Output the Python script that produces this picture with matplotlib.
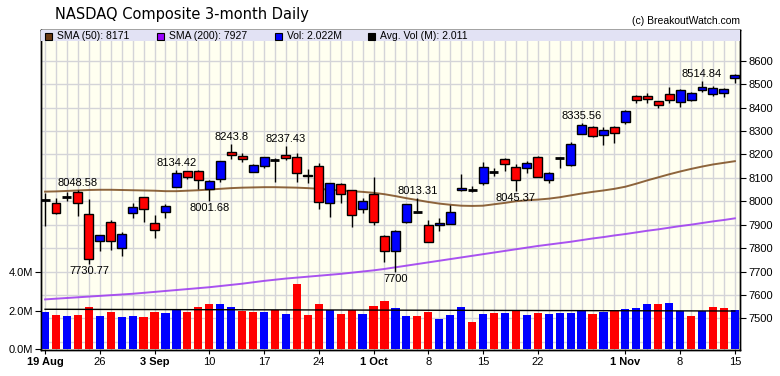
import matplotlib
matplotlib.use("Agg")
import numpy as np
import matplotlib.pyplot as plt
from matplotlib.patches import Rectangle

plt.rcParams['font.family'] = ['Liberation Sans', 'DejaVu Sans']

# --- data (19 Aug .. 15 Nov 2019, 64 sessions) ---
opens = [8005, 7991, 8019, 8038, 7944, 7829, 7910, 7799, 7948, 8017,
         7907, 7953, 8062, 8129, 8131, 8051, 8094, 8209, 8193, 8125,
         8149, 8177, 8197, 8187, 8106, 8149, 7991, 8073, 8047, 7966,
         8031, 7851, 7787, 7910, 7955, 7898, 7897, 7904, 8047, 8048,
         8077, 8124, 8179, 8147, 8142, 8187, 8091, 8186, 8153, 8286,
         8315, 8284, 8315, 8338, 8451, 8449, 8428, 8458, 8424, 8432,
         8473, 8456, 8461, 8525]
highs = [8034, 8012, 8038, 8048.58, 8009, 7858, 7920, 7869, 7991, 8020,
         7941, 7990, 8134.42, 8131, 8133, 8090, 8172, 8243.8, 8206, 8161,
         8190, 8183, 8237.43, 8206, 8136, 8162, 8080, 8080, 8049, 8012,
         8105, 7856, 7877, 7987, 8013.31, 7920, 7930, 7984, 8116, 8066,
         8166, 8143, 8183, 8158, 8172, 8195, 8125, 8190, 8254, 8335.56,
         8320, 8316, 8320, 8391, 8454, 8461, 8430, 8489, 8480, 8468,
         8514.84, 8493, 8482, 8544]
lows = [7894, 7946, 8001, 7938, 7730.77, 7789, 7792, 7767, 7927, 7913,
        7844, 7930, 8060, 8097, 8052, 8001.68, 8081, 8179, 8166, 8124,
        8141, 8083, 8178, 8083, 8078, 7968, 7934, 7991, 7891, 7948,
        7900, 7742, 7700, 7905, 7950, 7824, 7874, 7903, 8045, 8038,
        8070, 8106, 8130, 8045.37, 8119, 8104, 8080, 8141, 8152, 8285,
        8276, 8241, 8250, 8328, 8421, 8421, 8399, 8421, 8404, 8427,
        8465, 8451, 8444, 8505]
closes = [8005, 7948, 8019, 7994, 7752, 7854, 7829, 7859, 7974, 7966,
          7876, 7978, 8119, 8102, 8090, 8085, 8170, 8197, 8180, 8153,
          8187, 8177, 8185, 8119, 8113, 7997, 8077, 8031, 7940, 8000,
          7910, 7787, 7873, 7987, 7955, 7825, 7905, 7952, 8058, 8048,
          8148, 8124, 8157, 8090, 8163, 8104, 8120, 8186, 8243, 8327,
          8277, 8304, 8292, 8386, 8433, 8435, 8412, 8434, 8475, 8464,
          8486, 8482, 8479, 8541]
volumes = [1.96, 1.80, 1.75, 1.80, 2.22, 1.75, 1.96, 1.70, 1.75, 1.70,
           1.96, 1.91, 2.12, 1.93, 2.22, 2.38, 2.34, 2.22, 2.00, 1.93,
           1.93, 2.06, 1.86, 3.42, 1.80, 2.33, 2.06, 1.86, 2.06, 1.86,
           2.27, 2.53, 2.15, 1.75, 1.75, 1.96, 1.59, 1.80, 2.22, 1.44,
           1.86, 1.91, 1.91, 2.06, 1.80, 1.91, 1.86, 1.91, 1.91, 2.00,
           1.86, 1.96, 2.00, 2.12, 2.17, 2.38, 2.38, 2.43, 2.00, 1.75,
           2.00, 2.22, 2.17, 2.02]
sma50 = [8041, 8042, 8044, 8046, 8048, 8049, 8049, 8048, 8047, 8046,
         8045, 8043, 8043, 8045, 8047, 8050, 8053, 8056, 8058, 8059,
         8060, 8060, 8059, 8058, 8056, 8053, 8049, 8046, 8043, 8040,
         8036, 8030, 8022, 8013, 8005, 7997, 7990, 7985, 7981, 7980,
         7981, 7987, 7993, 8000, 8004, 8007, 8011, 8017, 8025, 8033,
         8040, 8046, 8053, 8062, 8075, 8089, 8102, 8115, 8127, 8138,
         8148, 8157, 8164, 8171]
sma200 = [7581, 7584, 7587, 7590, 7593, 7596, 7599, 7602, 7605, 7609,
          7613, 7617, 7621, 7625, 7629, 7633, 7638, 7643, 7648, 7654,
          7660, 7665, 7670, 7674, 7678, 7682, 7686, 7690, 7695, 7700,
          7705, 7711, 7718, 7725, 7732, 7739, 7746, 7753, 7760, 7767,
          7774, 7781, 7788, 7795, 7802, 7809, 7815, 7821, 7827, 7834,
          7841, 7847, 7854, 7860, 7867, 7874, 7880, 7887, 7894, 7900,
          7907, 7914, 7920, 7927]
avg_vol_ends = [2.08, 1.99]

tick_idx = [0, 5, 10, 15, 20, 25, 30, 35, 40, 45, 53, 58, 63]
tick_lbl = ['19 Aug', '26', '3 Sep', '10', '17', '24', '1 Oct', '8', '15',
            '22', '1 Nov', '8', '15']
month_lbl = {'19 Aug', '3 Sep', '1 Oct', '1 Nov'}

high_marks = [3, 12, 17, 22, 34, 49, 60]
low_marks = [4, 15, 32, 43]

legend_items = [('#6B3A12', 'SMA (50): 8171'), ('#9900FF', 'SMA (200): 7927'),
                ('#0000FF', 'Vol: 2.022M'), ('#000000', 'Avg. Vol (M): 2.011')]

RED, BLUE = '#FF0000', '#0000FF'

W, H = 780, 376
fig = plt.figure(figsize=(W / 100, H / 100), dpi=100)
fig.patch.set_facecolor('white')
ax = fig.add_axes([41 / W, 26 / H, 699 / W, 320 / H])
ax.set_facecolor('#FFFFF0')
x = np.arange(len(closes))
o = np.array(opens, float)
c = np.array(closes, float)

ax.set_xlim(-0.37, 63.47)
ax.set_ylim(7365, 8731)

# grid
ax.set_xticks(x, minor=True)
ax.set_yticks(range(7500, 8601, 100))
ax.set_yticks([7400, 8700], minor=True)
ax.grid(which='both', color='#D4D4D8', lw=1, zorder=0)
ax.set_axisbelow(True)

# moving averages
ax.plot(x, sma50, color='#7A4A1C', lw=1.4, alpha=0.85, zorder=2)
ax.plot(x, sma200, color='#A040F0', lw=1.4, alpha=0.9, zorder=2)

# candles
body_w = 0.82
for i in x:
    ax.vlines(i, lows[i], highs[i], color='black', lw=1, zorder=3)
    if c[i] == o[i]:
        ax.hlines(c[i], i - body_w / 2, i + body_w / 2, color='black', lw=2, zorder=4)
    else:
        col = BLUE if c[i] > o[i] else RED
        ax.bar(i, abs(c[i] - o[i]), bottom=min(o[i], c[i]), width=body_w,
               color=col, edgecolor='black', lw=1, zorder=4)

for i in high_marks:
    ax.annotate(f'{highs[i]:g}', (i, highs[i]), xytext=(0, 1.5),
                textcoords='offset points', ha='center', va='bottom', fontsize=8)
for i in low_marks:
    ax.annotate(f'{lows[i]:g}', (i, lows[i]), xytext=(0, -1.5),
                textcoords='offset points', ha='center', va='top', fontsize=8)

ax.set_xticks(tick_idx)
ax.set_xticklabels(tick_lbl)
ax.tick_params(axis='x', which='major', length=3, labelsize=8, pad=2)
ax.tick_params(axis='x', which='minor', length=0)
for t in ax.get_xticklabels():
    if t.get_text() in month_lbl:
        t.set_fontweight('bold')

# volume on a twin axis
axv = ax.twinx()
axv.patch.set_visible(False)
axv.set_ylim(-0.04, 16.62)
vol_up = np.concatenate([[True], np.diff(c) > 0])
axv.bar(x, volumes, width=0.75, color=[BLUE if u else RED for u in vol_up], zorder=2)
axv.plot([x[0], x[-1]], avg_vol_ends, color='black', lw=1, zorder=3)
axv.yaxis.tick_left()
axv.set_yticks([0, 2, 4])
axv.set_yticklabels(['0.0M', '2.0M', '4.0M'])
axv.tick_params(axis='y', length=4, labelsize=8, pad=2)

# price labels on the right (after twinx, which moves them)
ax.yaxis.tick_right()
ax.tick_params(axis='y', which='major', length=4, labelsize=8, pad=2,
               left=False, labelleft=False, right=True, labelright=True)
ax.tick_params(axis='y', which='minor', length=0)

for a in (ax, axv):
    for s in a.spines.values():
        s.set_color('black')
        s.set_linewidth(1)

# legend band
axv.add_patch(Rectangle((0, 0.9647), 1, 0.0353, transform=axv.transAxes,
                        facecolor='#E2E2F4', edgecolor='none', zorder=5, clip_on=False))
leg_x = [4 / 699, 116 / 699, 234 / 699, 327 / 699]
for (col, txt), lx in zip(legend_items, leg_x):
    axv.add_patch(Rectangle((lx, 0.9695), 7 / 699, 0.0215, transform=axv.transAxes,
                            facecolor=col, edgecolor='black', lw=0.8, zorder=6))
    axv.text(lx + 12 / 699, 0.9825, txt, transform=axv.transAxes, fontsize=7.5,
             va='center', ha='left', zorder=6)

fig.text(55 / W, 1 - 15 / H, 'NASDAQ Composite 3-month Daily', family='DejaVu Sans',
         fontsize=10.5, va='center', ha='left')
fig.text(740 / W, 1 - 21 / H, '(c) BreakoutWatch.com', fontsize=7.5,
         va='center', ha='right')

fig.savefig('out.png', dpi=100)
